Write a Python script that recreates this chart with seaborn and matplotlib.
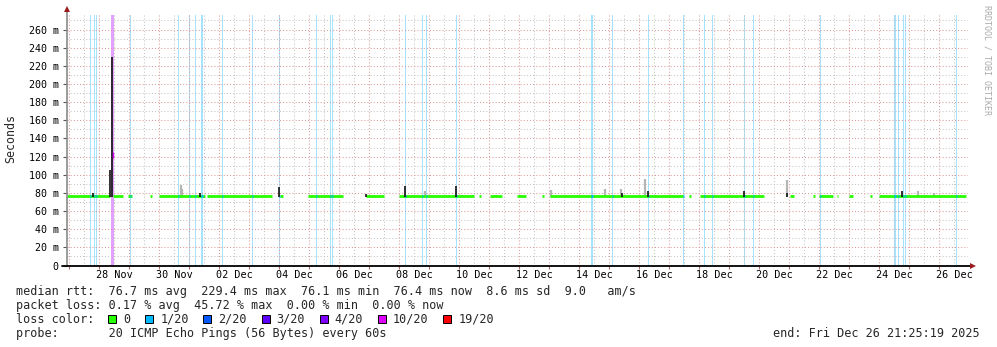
import matplotlib
matplotlib.use("Agg")
import numpy as np
import pandas as pd
import matplotlib.pyplot as plt
import seaborn as sns
from matplotlib.patches import Rectangle

# ---------------- data (time = days since 2025-11-26 00:00, rtt in ms) ----------------
seg_start = [0.933, 2.467, 2.947, 3.700, 4.000, 5.580, 8.023, 8.947, 10.890, 12.000,
             14.657, 15.023, 15.913, 16.757, 17.023, 21.643, 22.010, 25.023, 25.800,
             26.000, 26.580, 27.000, 27.690, 28.000]
seg_end = [2.357, 2.780, 3.080, 3.747, 5.523, 7.747, 8.133, 10.113, 11.490, 14.500,
           14.723, 15.413, 16.213, 16.823, 21.467, 21.723, 24.157, 25.147, 25.857,
           26.447, 26.613, 27.113, 27.747, 30.880]
seg_rtt = [76.6, 76.7, 76.6, 76.6, 76.7, 76.6, 76.8, 76.5, 76.6, 76.5, 76.6, 76.6,
           76.5, 76.6, 76.6, 76.7, 76.6, 76.5, 76.6, 76.6, 76.5, 76.6, 76.6, 76.4]

loss_time = [1.713, 1.847, 1.913, 2.435, 3.047, 4.633, 4.990, 5.200, 5.413, 6.100,
             7.100, 8.023, 9.233, 9.700, 9.767, 12.223, 12.780, 12.890, 13.900, 18.413,
             19.100, 20.300, 21.467, 22.167, 22.447, 23.500, 23.800, 26.033, 28.507,
             28.633, 28.800, 28.890, 30.567]
loss_steps = [1, 1, 1, 3, 1, 1, 1, 1, 2, 1, 1, 1, 1, 1, 1, 1, 1, 1, 1, 2,
              1, 1, 1, 1, 1, 1, 1, 1, 2, 1, 1, 1, 1]
loss_level = [1, 1, 1, 10, 1, 1, 1, 1, 1, 1, 1, 1, 1, 1, 1, 1, 1, 1, 1, 1,
              1, 1, 1, 1, 1, 1, 1, 1, 1, 1, 1, 1, 1]

spike_time = [1.790, 2.367, 2.413, 5.357, 8.000, 10.890, 12.200, 13.890, 19.413,
              20.300, 23.500, 24.913, 28.767]
spike_peak = [80, 105, 229.4, 80, 86.7, 79, 88, 87.7, 80, 82, 82, 80, 82]

smoke_time = [4.723, 4.760, 12.850, 17.050, 18.870, 19.390, 20.190, 24.913, 29.280, 29.830]
smoke_peak = [89, 84, 82, 83, 84, 84, 95, 94, 82, 80]

ytick_values = [0, 20, 40, 60, 80, 100, 120, 140, 160, 180, 200, 220, 240, 260]
ytick_labels = ["0", "20 m", "40 m", "60 m", "80 m", "100 m", "120 m", "140 m",
                "160 m", "180 m", "200 m", "220 m", "240 m", "260 m"]
xtick_labels = ["28 Nov", "30 Nov", "02 Dec", "04 Dec", "06 Dec", "08 Dec", "10 Dec",
                "12 Dec", "14 Dec", "16 Dec", "18 Dec", "20 Dec", "22 Dec", "24 Dec",
                "26 Dec"]

loss_names = ["0", "1/20", "2/20", "3/20", "4/20", "10/20", "19/20"]
loss_colors = ["#26ff00", "#00b8ff", "#0059ff", "#5e00ff", "#7e00ff", "#dd00ff", "#ff0000"]
stripe_colors = {1: "#a6e3ff", 10: "#e3a0ff"}

stats_rtt = "median rtt:  76.7 ms avg  229.4 ms max  76.1 ms min  76.4 ms now  8.6 ms sd  9.0   am/s"
stats_loss = "packet loss: 0.17 % avg  45.72 % max  0.00 % min  0.00 % now"
probe_text = "probe:       20 ICMP Echo Pings (56 Bytes) every 60s"
end_text = "end: Fri Dec 26 21:25:19 2025"

# ---------------- figure ----------------
sns.set_theme(style="white")
plt.rcParams["font.family"] = ["DejaVu Sans Mono"]

W, H = 997, 347
fig = plt.figure(figsize=(W / 100, H / 100), dpi=100)
fig.patch.set_facecolor("white")
L, R, T, B = 67, 968, 15, 265.5
ax = fig.add_axes([L / W, 1 - B / H, (R - L) / W, (B - T) / H])
ax.set_facecolor("white")
xmin, xmax = 0.923, 30.957
ymin, ymax = 0, 276
ax.set_xlim(xmin, xmax)
ax.set_ylim(ymin, ymax)
step = 1 / 30.0

# loss stripes
for t, n, lv in zip(loss_time, loss_steps, loss_level):
    ax.axvspan(t - n * step / 2, t + n * step / 2, color=stripe_colors[lv], lw=0, zorder=1)

# grid
major_c, minor_c = "#dc9a9a", "#c4c4c4"
dots = (0, (1, 2))
for d in np.arange(1.0, 31.0, 0.5):
    if xmin < d < xmax:
        ax.axvline(d, color=major_c if d == int(d) else minor_c, lw=0.75, ls=dots, zorder=2)
for v in range(10, 276, 10):
    ax.axhline(v, color=major_c if v % 20 == 0 else minor_c, lw=0.75, ls=dots, zorder=2)

# smoke
ax.vlines(smoke_time, 75.6, smoke_peak, color="#b5b5b5", lw=1.6, zorder=3)

# median line segments
rows = []
for i, (s, e, v) in enumerate(zip(seg_start, seg_end, seg_rtt)):
    rows.append({"t": s, "rtt": v, "seg": i})
    rows.append({"t": e, "rtt": v, "seg": i})
df = pd.DataFrame(rows)
sns.lineplot(data=df, x="t", y="rtt", units="seg", estimator=None, color=loss_colors[0],
             lw=2.0, ax=ax, zorder=4, legend=False, solid_capstyle="butt")

# loss-coloured median pieces
for t, n, lv in zip(loss_time, loss_steps, loss_level):
    for s, e, v in zip(seg_start, seg_end, seg_rtt):
        if s <= t <= e:
            ax.hlines(v, t - n * step / 2, t + n * step / 2,
                      color=loss_colors[1] if lv == 1 else loss_colors[5], lw=2.0, zorder=5)

# spikes
ax.vlines(spike_time, 76.0, spike_peak, color="#111111", lw=1.2, zorder=6)
ax.vlines([2.460], 118, 125, color=loss_colors[5], lw=1.0, zorder=6)

# axes / ticks
for sp in ax.spines.values():
    sp.set_visible(False)
ax.set_yticks(ytick_values)
ax.set_yticklabels(ytick_labels)
ax.set_xticks([2.5 + 2 * i for i in range(len(xtick_labels))])
ax.set_xticklabels(xtick_labels)
ax.set_xticks([d for d in np.arange(1.0, 31.0, 1.0)], minor=True)
ax.tick_params(axis="y", which="major", length=3, width=0.8, color="#555555",
               pad=3, labelsize=7.2, labelcolor="black", left=True)
ax.tick_params(axis="x", which="major", length=0, pad=3.2, labelsize=7.3,
               labelcolor="black", bottom=True)
ax.tick_params(axis="x", which="minor", length=2.2, width=0.8, color="#aa6666", bottom=True)
ax.set_xlabel("")
ax.set_ylabel("")
ax.grid(False)

# axis lines + arrows
ax.plot([0, 0], [0, 1.022], transform=ax.transAxes, color="#8a8a8a", lw=1.2,
        clip_on=False, zorder=7)
ax.plot([-5 / (R - L), 1.003], [0, 0], transform=ax.transAxes, color="black", lw=1.3,
        clip_on=False, zorder=7)
ax.plot([0], [1.024], marker="^", ms=4.2, color="#9a1c1c", transform=ax.transAxes,
        clip_on=False, zorder=8, mew=0)
ax.plot([1.005], [0], marker=">", ms=4.2, color="#9a1c1c", transform=ax.transAxes,
        clip_on=False, zorder=8, mew=0)

# texts
fs = 8.5
cw = 7.1


def fx(x):
    return x / W


def fy(y):
    return 1 - y / H


fig.text(fx(11), fy(139), "Seconds", rotation=90, ha="center", va="center", fontsize=8.4)
fig.text(fx(987), fy(5), "RRDTOOL / TOBI OETIKER", rotation=270, ha="center", va="top",
         fontsize=6.0, color="#aaaaaa")
fig.text(fx(16), fy(291.7), stats_rtt, ha="left", va="center", fontsize=fs)
fig.text(fx(16), fy(305.5), stats_loss, ha="left", va="center", fontsize=fs)
fig.text(fx(16), fy(319.4), "loss color:", ha="left", va="center", fontsize=fs)
fig.text(fx(16), fy(333.3), probe_text, ha="left", va="center", fontsize=fs)
fig.text(fx(980), fy(333.3), end_text, ha="right", va="center", fontsize=fs)

cursor = 16 + 13 * cw
for name, col in zip(loss_names, loss_colors):
    fig.add_artist(Rectangle((fx(cursor), fy(319.4 + 4)), 8 / W, 8 / H,
                             transform=fig.transFigure, facecolor=col,
                             edgecolor="black", lw=0.7))
    lx = cursor + 15
    fig.text(fx(lx), fy(319.4), name, ha="left", va="center", fontsize=fs)
    cursor = lx + len(name) * cw + 14.8

fig.savefig("out.png", dpi=100, facecolor="white")
